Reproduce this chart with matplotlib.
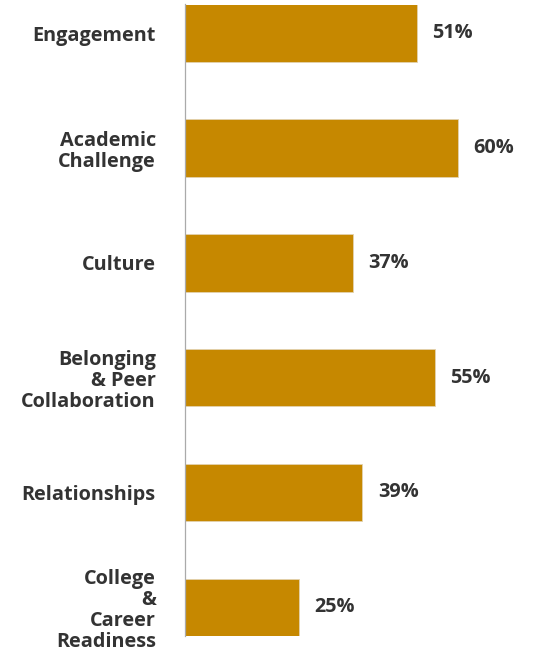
import matplotlib
matplotlib.use("Agg")
import matplotlib.pyplot as plt

categories = ["Engagement", "Academic\nChallenge", "Culture", "Belonging\n& Peer\nCollaboration",
              "Relationships", "College\n&\nCareer\nReadiness"]
values = [51, 60, 37, 55, 39, 25]
value_labels = ["51%", "60%", "37%", "55%", "39%", "25%"]

W, H = 539, 650
fig = plt.figure(figsize=(W / 100, H / 100), dpi=100)
ax = fig.add_axes([185 / W, 1 - 636 / H, (539 - 185) / W, (636 - 4.5) / H])

ypos = list(range(len(categories)))
ax.barh(ypos, values, height=0.5, color="#C68800", edgecolor="#E2D2B0", linewidth=0.6)
ax.set_ylim(len(categories) - 0.75, -0.25)
ax.set_xlim(0, 77.8)

for s in ["top", "right", "bottom"]:
    ax.spines[s].set_visible(False)
ax.spines["left"].set_color("#AAAAAA")
ax.spines["left"].set_linewidth(0.9)
ax.set_xticks([])
ax.set_yticks(ypos)
ax.set_yticklabels(categories, fontfamily="Open Sans", fontweight="bold", fontsize=14.3,
                   color="#333333", linespacing=1.08)
ax.tick_params(axis="y", length=0, pad=21)

for y, v, lab in zip(ypos, values, value_labels):
    ax.annotate(lab, (v, y), xytext=(11, 0), textcoords="offset points", va="center", ha="left",
                fontfamily="Open Sans", fontweight="bold", fontsize=14.3, color="#333333")

fig.savefig("out.png", dpi=100)
